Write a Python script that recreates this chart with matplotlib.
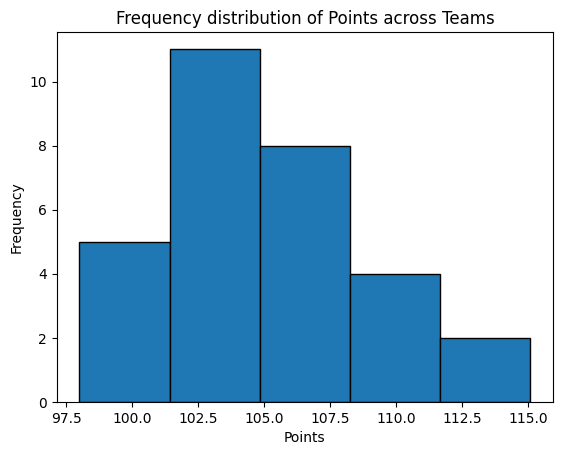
import matplotlib
matplotlib.use("Agg")
import matplotlib.pyplot as plt

# points scored per team (counts 5, 11, 8, 4, 2)
points = [98, 99, 100, 100, 101,
          102, 102, 102, 103, 103, 103, 104, 104, 104, 104, 104,
          105, 105, 106, 106, 107, 107, 108, 108,
          109, 110, 110, 111,
          113, 115.1]

fig, ax = plt.subplots(figsize=(5.62, 4.55), dpi=100)
fig.subplots_adjust(left=0.101, right=0.984, top=0.93, bottom=0.116)
ax.hist(points, bins=5, color="#1f77b4", edgecolor="black")
ax.set_title("Frequency distribution of Points across Teams")
ax.set_xlabel("Points")
ax.set_ylabel("Frequency")
fig.savefig("out.png")
